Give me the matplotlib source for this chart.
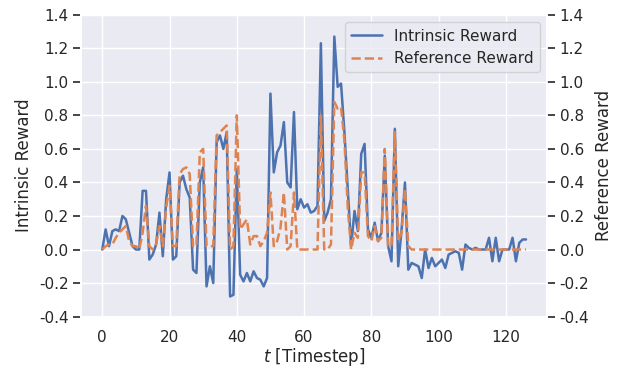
import matplotlib
matplotlib.use("Agg")
import matplotlib.pyplot as plt
import seaborn as sns
import numpy as np

# per-timestep rewards
intrinsic = [
    0.00, 0.12, 0.02, 0.11, 0.12, 0.11, 0.20, 0.18, 0.10, 0.02,
    0.00, 0.00, 0.35, 0.35, -0.06, -0.03, 0.03, 0.22, -0.04, 0.30,
    0.46, -0.06, -0.04, 0.40, 0.44, 0.36, 0.31, -0.12, -0.14, 0.40,
    0.49, -0.22, -0.10, -0.20, 0.64, 0.68, 0.60, 0.70, -0.28, -0.27,
    0.48, -0.15, -0.19, -0.14, -0.19, -0.13, -0.17, -0.18, -0.22, -0.17,
    0.93, 0.46, 0.58, 0.62, 0.76, 0.40, 0.37, 0.82, 0.24, 0.30,
    0.25, 0.27, 0.22, 0.23, 0.26, 1.23, 0.17, 0.22, 0.30, 1.27,
    0.97, 0.99, 0.70, 0.36, 0.02, 0.23, 0.11, 0.57, 0.63, 0.12,
    0.07, 0.16, 0.05, 0.10, 0.56, 0.02, -0.07, 0.72, -0.10, 0.12,
    0.40, -0.12, -0.08, -0.09, -0.10, -0.17, 0.00, -0.11, -0.05, -0.10,
    -0.08, -0.06, -0.11, -0.03, -0.02, -0.01, -0.02, -0.12, 0.03, 0.01,
    0.00, 0.01, 0.00, 0.00, 0.00, 0.07, -0.07, 0.07, -0.07, 0.00,
    0.00, 0.00, 0.07, -0.07, 0.04, 0.06, 0.06,
]
reference = [
    0.00, 0.02, 0.03, 0.03, 0.07, 0.10, 0.12, 0.14, 0.05, 0.02,
    0.02, 0.00, 0.10, 0.26, 0.02, 0.00, 0.03, 0.14, 0.02, 0.25,
    0.38, 0.02, 0.02, 0.45, 0.48, 0.49, 0.45, 0.02, 0.02, 0.58,
    0.60, 0.02, 0.02, 0.02, 0.68, 0.70, 0.72, 0.74, 0.00, 0.02,
    0.80, 0.12, 0.15, 0.18, 0.03, 0.08, 0.08, 0.02, 0.05, 0.10,
    0.34, 0.02, 0.05, 0.13, 0.34, 0.00, 0.02, 0.34, 0.00, 0.00,
    0.00, 0.00, 0.00, 0.00, 0.00, 0.80, 0.00, 0.00, 0.03, 0.88,
    0.84, 0.85, 0.65, 0.25, 0.00, 0.10, 0.07, 0.46, 0.46, 0.08,
    0.05, 0.14, 0.05, 0.07, 0.60, 0.02, 0.02, 0.70, 0.05, 0.10,
    0.36, 0.02,
] + [0.00] * 35
timesteps = np.arange(len(intrinsic))
yticks = np.arange(-0.4, 1.41, 0.2)

sns.set_theme(style="darkgrid")
fig = plt.figure(figsize=(6.19, 3.69), dpi=100)
ax = fig.add_axes([0.131, 0.142, 0.753, 0.818])
ax2 = ax.twinx()

l1, = ax.plot(timesteps, intrinsic, color="#4C72B0", lw=1.8)
l2, = ax2.plot(timesteps[:len(reference)], reference, color="#DD8452", lw=1.8,
               ls="--")

for a in (ax, ax2):
    a.set_ylim(-0.4, 1.4)
    a.set_yticks(yticks)
    a.set_yticklabels(["%.1f" % v for v in yticks])
    a.tick_params(axis="y", length=6, width=1.2, color="#262626", pad=3)
ax.tick_params(axis="y", left=True)
ax2.tick_params(axis="y", right=True)
ax2.grid(False)
ax.set_xlim(-6.3, 132.3)
ax.set_xticks([0, 20, 40, 60, 80, 100, 120])

ax.set_xlabel("$t$ [Timestep]", fontsize=12, labelpad=1)
ax.set_ylabel("Intrinsic Reward", fontsize=12)
ax2.set_ylabel("Reference Reward", fontsize=12)

ax2.legend([l1, l2], ["Intrinsic Reward", "Reference Reward"], loc="upper right",
           fontsize=11)

plt.savefig("out.png", dpi=100)
